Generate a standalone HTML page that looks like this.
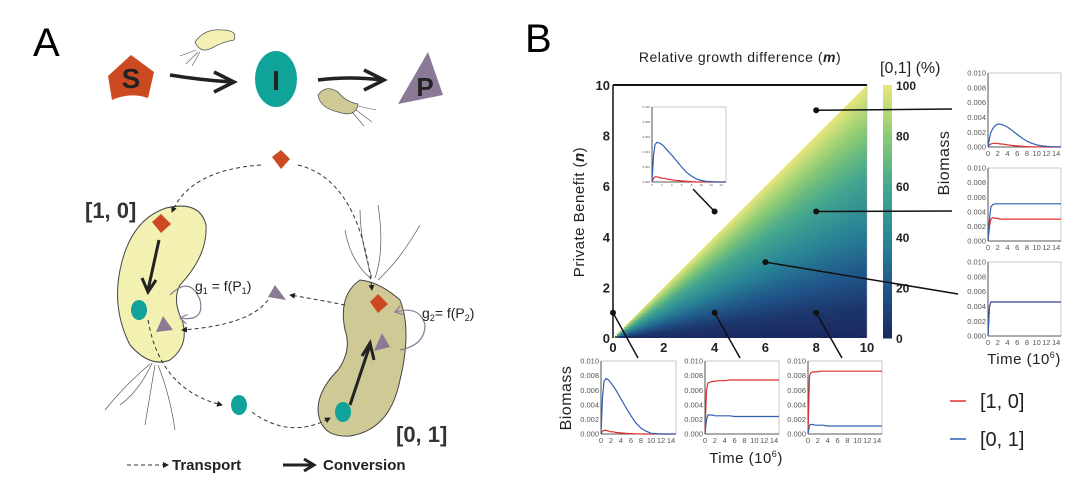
<!DOCTYPE html>
<html><head><meta charset="utf-8"><style>
html,body{margin:0;padding:0;background:#fff;}
svg{display:block;font-family:"Liberation Sans",sans-serif;}
</style></head><body>
<svg id="fig" width="1080" height="494" viewBox="0 0 1080 494" xmlns="http://www.w3.org/2000/svg">
<defs>
<marker id="ah" markerWidth="6" markerHeight="6" refX="5" refY="3" orient="auto"><path d="M0,0 L6,3 L0,6 Z" fill="#222"/></marker>
<marker id="ag" markerWidth="8" markerHeight="8" refX="6" refY="4" orient="auto"><path d="M0,0 L6,4 L0,8" fill="none" stroke="#8a7a96" stroke-width="1"/></marker>
<clipPath id="tri"><polygon points="613,338 867,338 867,85"/></clipPath>
</defs>
<!-- Panel A -->
<g>
<text x="33" y="56" font-size="40">A</text>
<path d="M108,76 L131,55 L154,72 L148,98 Q130,92 112,100 Z" fill="#cc4a22"/>
<text x="131" y="88" font-size="28" font-weight="bold" text-anchor="middle" fill="#222">S</text>
<path d="M170,75 Q200,80 232,82 M214,72 L234,82 L214,92" fill="none" stroke="#222" stroke-width="3.5"/>
<path d="M195,42 Q205,28 222,30 Q238,30 234,40 Q222,42 212,48 Q200,54 195,42Z" fill="#f2f0b4" stroke="#555" stroke-width="0.8"/>
<path d="M196,50 L180,56 M198,52 L186,64 M200,52 L192,66" stroke="#555" stroke-width="0.6" fill="none"/>
<ellipse cx="276" cy="79" rx="21" ry="28" fill="#0fa39a"/>
<text x="276" y="90" font-size="28" font-weight="bold" text-anchor="middle" fill="#222">I</text>
<path d="M318,80 Q350,76 382,80 M364,70 L384,80 L364,90" fill="none" stroke="#222" stroke-width="3.5"/>
<path d="M318,95 Q326,84 338,92 Q346,102 358,104 Q356,118 338,112 Q320,108 318,95Z" fill="#cfc996" stroke="#555" stroke-width="0.8"/>
<path d="M358,106 L376,110 M356,110 L372,122 M352,112 L364,126" stroke="#555" stroke-width="0.6" fill="none"/>
<polygon points="398,104 443,95 428,52" fill="#8a7a96"/>
<text x="425" y="96" font-size="26" font-weight="bold" text-anchor="middle" fill="#222">P</text>
<path d="M166,208 Q200,200 206,225 Q208,255 180,285 Q172,300 182,320 Q190,345 170,360 Q150,368 130,345 Q112,310 120,270 Q130,220 166,208Z" fill="#f3f1b2" stroke="#444" stroke-width="1"/>
<path d="M360,280 Q380,282 400,300 Q412,330 400,380 Q390,430 350,436 Q320,438 318,410 Q318,390 338,370 Q352,350 345,330 Q338,295 360,280Z" fill="#cfc996" stroke="#444" stroke-width="1"/>
<text x="85" y="218" font-size="22" font-weight="bold" fill="#333">[1, 0]</text>
<text x="396" y="442" font-size="22" font-weight="bold" fill="#333">[0, 1]</text>
<path d="M272,157 L281,150 L290,159 L281,169 Z" fill="#cc4a22"/>
<path d="M152,222 L161,214 L171,224 L161,233 Z" fill="#cc4a22"/>
<path d="M370,302 L378,294 L388,304 L378,313 Z" fill="#cc4a22"/>
<ellipse cx="139" cy="310" rx="8" ry="10" fill="#0fa39a"/>
<ellipse cx="239" cy="405" rx="8" ry="10" fill="#0fa39a"/>
<ellipse cx="343" cy="412" rx="8" ry="10" fill="#0fa39a"/>
<polygon points="156,332 173,330 163,316" fill="#8a7a96"/>
<polygon points="268,297 286,300 275,285" fill="#8a7a96"/>
<polygon points="374,351 390,347 382,333" fill="#8a7a96"/>
<path d="M261,165 Q190,170 172,212" fill="none" stroke="#333" stroke-dasharray="4,3" marker-end="url(#ah)"/>
<path d="M298,165 Q360,180 372,290" fill="none" stroke="#333" stroke-dasharray="4,3" marker-end="url(#ah)"/>
<path d="M345,305 Q320,300 290,295" fill="none" stroke="#333" stroke-dasharray="4,3" marker-end="url(#ah)"/>
<path d="M268,300 Q250,325 182,330" fill="none" stroke="#333" stroke-dasharray="4,3" marker-end="url(#ah)"/>
<path d="M148,320 Q160,390 222,405" fill="none" stroke="#333" stroke-dasharray="4,3" marker-end="url(#ah)"/>
<path d="M252,412 Q290,440 330,418" fill="none" stroke="#333" stroke-dasharray="4,3" marker-end="url(#ah)"/>
<path d="M159,240 L148,290 M142,278 L148,292 L156,280" fill="none" stroke="#222" stroke-width="3"/>
<path d="M350,405 L370,345 M362,356 L370,343 L374,360" fill="none" stroke="#222" stroke-width="3"/>
<path d="M170,295 Q190,275 200,300 Q205,322 180,318" fill="none" stroke="#8a7a96" stroke-width="1.2" marker-end="url(#ag)"/>
<path d="M400,350 Q425,345 425,325 Q420,305 395,312" fill="none" stroke="#8a7a96" stroke-width="1.2" marker-end="url(#ag)"/>
<text x="195" y="291" font-size="14" fill="#222">g<tspan font-size="9" dy="3">1</tspan><tspan dy="-3"> = f(P</tspan><tspan font-size="9" dy="3">1</tspan><tspan dy="-3">)</tspan></text>
<text x="422" y="318" font-size="14" fill="#222">g<tspan font-size="9" dy="3">2</tspan><tspan dy="-3">= f(P</tspan><tspan font-size="9" dy="3">2</tspan><tspan dy="-3">)</tspan></text>
<path d="M152,363 Q140,390 120,405 M155,365 Q150,395 145,425 M158,365 Q170,395 175,430 M150,364 Q125,385 105,410" fill="none" stroke="#555" stroke-width="0.7"/>
<path d="M372,278 Q360,240 360,210 M375,278 Q385,250 378,205 M378,280 Q400,260 420,225 M370,278 Q350,260 345,230" fill="none" stroke="#555" stroke-width="0.7"/>
<path d="M127,465 L168,465" stroke="#333" stroke-dasharray="4,3" marker-end="url(#ah)"/>
<text x="172" y="470" font-size="15" font-weight="bold" fill="#222">Transport</text>
<path d="M283,465 L312,465 M304,459 L314,465 L304,471" stroke="#222" stroke-width="3" fill="none"/>
<text x="323" y="470" font-size="15" font-weight="bold" fill="#222">Conversion</text>
</g>
<text x="525" y="52" font-size="40">B</text>
<g id="panelB"></g>
</svg>
<script>
const ratioStops=[0,0.125,0.25,0.5,0.75,1];
const pctStops=[0,6,19,44,70,100];
const cbPct=[0,20,40,60,80,100];
const cbColors=['#1b2960','#20568a','#2a8796','#44a78e','#8ccb74','#e8e77c'];
const axisTicks=[0,2,4,6,8,10];
const cbTicks=[0,20,40,60,80,100];
const insetT=[0,0.3,0.6,1,1.5,2,2.5,3,4,5,6,7,8,9,10,11,12,13,14,15];
const r1Blue=[0,0.0012,0.002,0.0025,0.0029,0.0031,0.0031,0.003,0.0027,0.0022,0.0017,0.0012,0.0008,0.0005,0.0003,0.00015,0.00008,0.00004,0.00002,0];
const r1Red=[0,0.0003,0.0004,0.0005,0.0005,0.0005,0.0004,0.0004,0.0003,0.0002,0.00015,0.0001,0.00005,0.00003,0.00002,0.00001,0,0,0,0];
const r2Blue=[0,0.003,0.0047,0.005,0.0051,0.0051,0.0051,0.0051,0.0051,0.0051,0.0051,0.0051,0.0051,0.0051,0.0051,0.0051,0.0051,0.0051,0.0051,0.0051];
const r2Red=[0,0.002,0.003,0.0032,0.0031,0.0031,0.003,0.003,0.003,0.003,0.003,0.003,0.003,0.003,0.003,0.003,0.003,0.003,0.003,0.003];
const r3Blue=[0,0.004,0.0046,0.0046,0.0046,0.0046,0.0046,0.0046,0.0046,0.0046,0.0046,0.0046,0.0046,0.0046,0.0046,0.0046,0.0046,0.0046,0.0046,0.0046];
const r3Red=[0,0.004,0.0046,0.0046,0.0046,0.0046,0.0046,0.0046,0.0046,0.0046,0.0046,0.0046,0.0046,0.0046,0.0046,0.0046,0.0046,0.0046,0.0046,0.0046];
const b1Blue=[0,0.005,0.0072,0.0076,0.0074,0.007,0.0065,0.006,0.0048,0.0036,0.0025,0.0015,0.0008,0.0004,0.0001,0.00005,0,0,0,0];
const b1Red=[0,0.0004,0.0005,0.0005,0.0004,0.0003,0.0003,0.0002,0.00015,0.0001,0.00005,0.00003,0,0,0,0,0,0,0,0];
const b2Red=[0,0.006,0.007,0.0071,0.0072,0.0072,0.0073,0.0073,0.0073,0.0074,0.0074,0.0074,0.0074,0.0074,0.0074,0.0074,0.0074,0.0074,0.0074,0.0074];
const b2Blue=[0,0.002,0.0026,0.0026,0.0026,0.0025,0.0025,0.0025,0.0025,0.0025,0.0024,0.0024,0.0024,0.0024,0.0024,0.0024,0.0024,0.0024,0.0024,0.0024];
const b3Red=[0,0.008,0.0084,0.0085,0.0085,0.0085,0.0086,0.0086,0.0086,0.0086,0.0086,0.0086,0.0086,0.0086,0.0086,0.0086,0.0086,0.0086,0.0086,0.0086];
const b3Blue=[0,0.0012,0.0013,0.0013,0.0012,0.0012,0.0012,0.0012,0.0011,0.0011,0.0011,0.0011,0.0011,0.0011,0.0011,0.0011,0.0011,0.0011,0.0011,0.0011];
const ulBlue=[0,0.0035,0.005,0.0053,0.0052,0.005,0.0047,0.0043,0.0036,0.0028,0.002,0.0013,0.0008,0.0004,0.0002,0.0001,0.00005,0,0,0];
const ulRed=[0,0.0005,0.0007,0.0007,0.0006,0.0005,0.0005,0.0004,0.0003,0.0002,0.00015,0.0001,0.00005,0,0,0,0,0,0,0];
const insetXTicks=[0,2,4,6,8,10,12,14];
const insetYTicks=[0,0.002,0.004,0.006,0.008,0.010];

const NS='http://www.w3.org/2000/svg';
const root=document.getElementById('panelB');
function mk(tag,attrs,parent){const e=document.createElementNS(NS,tag);for(const k in attrs)e.setAttribute(k,attrs[k]);(parent||root).appendChild(e);return e;}
function interp(xs,ys,x){for(let i=1;i<xs.length;i++){if(x<=xs[i]){const f=(x-xs[i-1])/(xs[i]-xs[i-1]);return ys[i-1]+f*(ys[i]-ys[i-1]);}}return ys[ys.length-1];}
function hex(c){return [1,3,5].map(i=>parseInt(c.substr(i,2),16));}
function color(p){for(let i=1;i<cbPct.length;i++){if(p<=cbPct[i]){const f=(p-cbPct[i-1])/(cbPct[i]-cbPct[i-1]);const a=hex(cbColors[i-1]),b=hex(cbColors[i]);return 'rgb('+a.map((v,k)=>Math.round(v+f*(b[k]-v))).join(',')+')';}}return cbColors[cbColors.length-1];}
const X0=613,X1=867,Y0=338,Y1=85;
const sx=m=>X0+(m/10)*(X1-X0), sy=n=>Y0-(n/10)*(Y0-Y1);

const hm=mk('g',{'clip-path':'url(#tri)'});


const N=110;
for(let i=0;i<N;i++){for(let j=0;j<=i;j++){
 const m=(i+0.5)*10/N,n=(j+0.5)*10/N;
 const r=Math.min(1,n/m);
 const c=mk('rect',{x:sx(i*10/N)-0.3,y:sy((j+1)*10/N)-0.3,width:(X1-X0)/N+0.6,height:(Y0-Y1)/N+0.6,fill:color(interp(ratioStops,pctStops,r))},hm);
 
 
}
 const m=(i+0.5)*10/N;
 const c2=mk('rect',{x:sx(i*10/N)-0.3,y:sy((i+3)*10/N),width:(X1-X0)/N+0.6,height:2*(Y0-Y1)/N+0.6,fill:color(100)},hm);
 
 
}
mk('line',{x1:X0,y1:Y1,x2:X1,y2:Y1,stroke:'#111','stroke-width':2});
mk('line',{x1:X0,y1:Y1,x2:X0,y2:Y0,stroke:'#111','stroke-width':1.5});
mk('line',{x1:X1,y1:Y1,x2:X1,y2:Y0,stroke:'#aaa','stroke-width':0.5});
axisTicks.forEach(v=>{
 const t=mk('text',{x:sx(v),y:Y0+14,'font-size':13,'font-weight':'bold','text-anchor':'middle',fill:'#222'});t.textContent=v;
 
 
 const u=mk('text',{x:X0-3,y:sy(v)+5,'font-size':13,'font-weight':'bold','text-anchor':'end',fill:'#222'});u.textContent=v;
 
 
});
const title=mk('text',{x:740,y:62,'font-size':14,'text-anchor':'middle',fill:'#222','letter-spacing':'0.5'});
title.innerHTML='Relative growth difference (<tspan font-weight="bold" font-style="italic">m</tspan>)';


const yt=mk('text',{x:0,y:0,'font-size':15,'text-anchor':'middle',fill:'#222',transform:'translate(584,212) rotate(-90)','letter-spacing':'0.5'});
yt.innerHTML='Private Benefit (<tspan font-weight="bold" font-style="italic">n</tspan>)';


const cb=mk('g',{});


for(let k=0;k<100;k++){mk('rect',{x:883,y:Y0-(k+1)*(Y0-Y1)/100,width:9,height:(Y0-Y1)/100+0.5,fill:color(k+0.5)},cb);}
cbTicks.forEach(v=>{const t=mk('text',{x:896,y:Y0-(v/100)*(Y0-Y1)+5,'font-size':12,'font-weight':'bold',fill:'#222'},cb);t.textContent=v;
 
 });
const cbt=mk('text',{x:880,y:73,'font-size':16,fill:'#222'});cbt.textContent='[0,1] (%)';



function inset(name,x0,y0,w,h,red,blue,fs,tickGap){
 const g=mk('g',{});
 
 
 mk('rect',{x:x0,y:y0,width:w,height:h,fill:'#fff',stroke:'#bbb','stroke-width':0.8},g);
 const px=t=>x0+t/15*w, py=v=>y0+h-v/0.010*h;
 mk('line',{x1:x0,y1:y0,x2:x0,y2:y0+h,stroke:'#333','stroke-width':0.8},g);
 mk('line',{x1:x0,y1:y0+h,x2:x0+w,y2:y0+h,stroke:'#333','stroke-width':0.8},g);
 insetYTicks.forEach(v=>{const t=mk('text',{x:x0-2,y:py(v)+fs*0.35,'font-size':fs,'text-anchor':'end',fill:'#555'},g);t.textContent=v.toFixed(3);
  
  });
 insetXTicks.forEach(v=>{const t=mk('text',{x:px(v),y:y0+h+tickGap,'font-size':fs,'text-anchor':'middle',fill:'#555'},g);t.textContent=v;
  
  });
 const path=arr=>insetT.map((t,i)=>(i?'L':'M')+px(t).toFixed(1)+','+py(arr[i]).toFixed(1)).join(' ');
 const rl=mk('path',{d:path(red),fill:'none',stroke:'#e03030','stroke-width':1.2},g);
 
 
 const bl=mk('path',{d:path(blue),fill:'none',stroke:'#3060b0','stroke-width':1.2},g);
 
 
}
function conn(m,n,x2,y2){
 const l=mk('line',{x1:sx(m),y1:sy(n),x2:x2,y2:y2,stroke:'#111','stroke-width':1.5});
 
 
 const d=mk('circle',{cx:sx(m),cy:sy(n),r:3,fill:'#111'});
 
 
}
inset('inset-upper-left',652,107,74,75,ulRed,ulBlue,3,4);
conn(8,9,952,109);conn(8,5,952,211);conn(6,3,958,294);conn(4,5,693,189);
conn(0,1,638,358);conn(4,1,740,358);conn(8,1,842,358);
inset('inset-right-1',988,73,73,74,r1Red,r1Blue,7.5,9);
inset('inset-right-2',988,168,73,73,r2Red,r2Blue,7.5,9);
inset('inset-right-3',988,262,73,74,r3Red,r3Blue,7.5,9);
inset('inset-bottom-1',601,361,75,73,b1Red,b1Blue,7.5,9);
inset('inset-bottom-2',705,361,74,73,b2Red,b2Blue,7.5,9);
inset('inset-bottom-3',808,361,74,73,b3Red,b3Blue,7.5,9);
function lbl(txt,x,y,fs,rot,name){const t=mk('text',{x:0,y:0,'font-size':fs,'text-anchor':'middle',fill:'#222',transform:'translate('+x+','+y+')'+(rot?' rotate(-90)':''),'letter-spacing':'0.5'});t.innerHTML=txt;
 
 }
lbl('Biomass',949,163,16,true,'right-biomass-label');
lbl('Biomass',571,398,16,true,'bottom-biomass-label');
lbl('Time (10<tspan font-size="9" dy="-6">6</tspan><tspan dy="6">)</tspan>',1024,364,15,false,'right-time-label');
lbl('Time (10<tspan font-size="9" dy="-6">6</tspan><tspan dy="6">)</tspan>',746,463,15,false,'bottom-time-label');
const l1=mk('line',{x1:950,y1:401,x2:966,y2:401,stroke:'#e03030','stroke-width':1.5});


const t1=mk('text',{x:980,y:408,'font-size':20,fill:'#222'});t1.textContent='[1, 0]';


const l2=mk('line',{x1:950,y1:439,x2:966,y2:439,stroke:'#3060b0','stroke-width':1.5});


const t2=mk('text',{x:980,y:446,'font-size':20,fill:'#222'});t2.textContent='[0, 1]';


</script>
</body></html>
